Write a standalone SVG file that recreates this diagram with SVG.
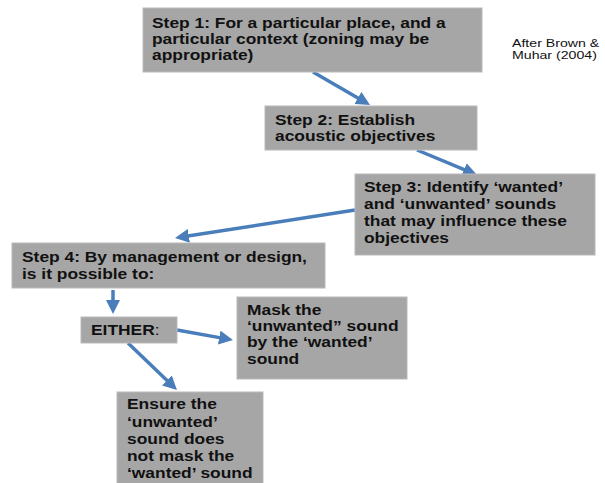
<svg xmlns="http://www.w3.org/2000/svg" width="605" height="483" viewBox="0 0 605 483">
<style>
.box{fill:#a6a6a6;stroke:#b9b9b9;stroke-width:1}
.t{font-family:"Liberation Sans",Arial,sans-serif;font-weight:bold;font-size:14.5px;fill:#111}
.n{font-family:"Liberation Sans",Arial,sans-serif;font-size:11.8px;fill:#111}
.c{fill:none;stroke:#4a7ebb;stroke-width:3.5}
</style>
<defs>
<marker id="ah" markerUnits="userSpaceOnUse" markerWidth="14" markerHeight="14" viewBox="0 0 14 14" refX="6" refY="7" orient="auto">
<path d="M0,0 L14,7 L0,14 z" fill="#4a7ebb"/>
</marker>
</defs>
<rect width="605" height="483" fill="#fff"/>
<g id="connectors">
<line class="c" x1="313" y1="72" x2="363.1" y2="101" marker-end="url(#ah)"/>
<line class="c" x1="417" y1="150" x2="469.6" y2="171.9" marker-end="url(#ah)"/>
<line class="c" x1="355" y1="210" x2="182.9" y2="236.8" marker-end="url(#ah)"/>
<line class="c" x1="113" y1="290" x2="113" y2="306" marker-end="url(#ah)"/>
<line class="c" x1="177" y1="330" x2="225.1" y2="338.6" marker-end="url(#ah)"/>
<line class="c" x1="128" y1="343" x2="171.2" y2="384.5" marker-end="url(#ah)"/>
</g>
<g id="step1">
<rect class="box" x="143" y="8" width="339" height="64"/>
<text class="t" transform="matrix(1.2,0,0,1,152,0)"><tspan x="0" y="28">Step 1: For a particular place, and a</tspan><tspan x="0" y="44">particular context (zoning may be</tspan><tspan x="0" y="60">appropriate)</tspan></text>
</g>
<g id="step2">
<rect class="box" x="265" y="106" width="212" height="44"/>
<text class="t" transform="matrix(1.2,0,0,1,275,0)"><tspan x="0" y="125">Step 2: Establish</tspan><tspan x="0" y="141">acoustic objectives</tspan></text>
</g>
<g id="step3">
<rect class="box" x="355" y="174" width="240" height="81"/>
<text class="t" transform="matrix(1.2,0,0,1,364,0)"><tspan x="0" y="192">Step 3: Identify ‘wanted’</tspan><tspan x="0" y="209">and ‘unwanted’ sounds</tspan><tspan x="0" y="226">that may influence these</tspan><tspan x="0" y="243">objectives</tspan></text>
</g>
<g id="step4">
<rect class="box" x="12" y="243" width="313" height="45"/>
<text class="t" transform="matrix(1.2,0,0,1,22,0)"><tspan x="0" y="262">Step 4: By management or design,</tspan><tspan x="0" y="279">is it possible to:</tspan></text>
</g>
<g id="either">
<rect class="box" x="81" y="317" width="96" height="26"/>
<text class="t" transform="matrix(1.2,0,0,1,91,0)" x="0" y="335">EITHER<tspan font-weight="normal">:</tspan></text>
</g>
<g id="mask">
<rect class="box" x="237" y="297" width="170" height="82"/>
<text class="t" transform="matrix(1.2,0,0,1,247,0)"><tspan x="0" y="315">Mask the</tspan><tspan x="0" y="331">‘unwanted” sound</tspan><tspan x="0" y="347">by the ‘wanted’</tspan><tspan x="0" y="364">sound</tspan></text>
</g>
<g id="ensure">
<rect class="box" x="117" y="392" width="146" height="92"/>
<text class="t" transform="matrix(1.2,0,0,1,127,0)"><tspan x="0" y="409">Ensure the</tspan><tspan x="0" y="427">‘unwanted’</tspan><tspan x="0" y="444">sound does</tspan><tspan x="0" y="461">not mask the</tspan><tspan x="0" y="478">‘wanted’ sound</tspan></text>
</g>
<g id="note">
<text class="n" transform="matrix(1.2,0,0,1,512,0)"><tspan x="0" y="47">After Brown &amp;</tspan><tspan x="0" y="59.5">Muhar (2004)</tspan></text>
</g>
</svg>
